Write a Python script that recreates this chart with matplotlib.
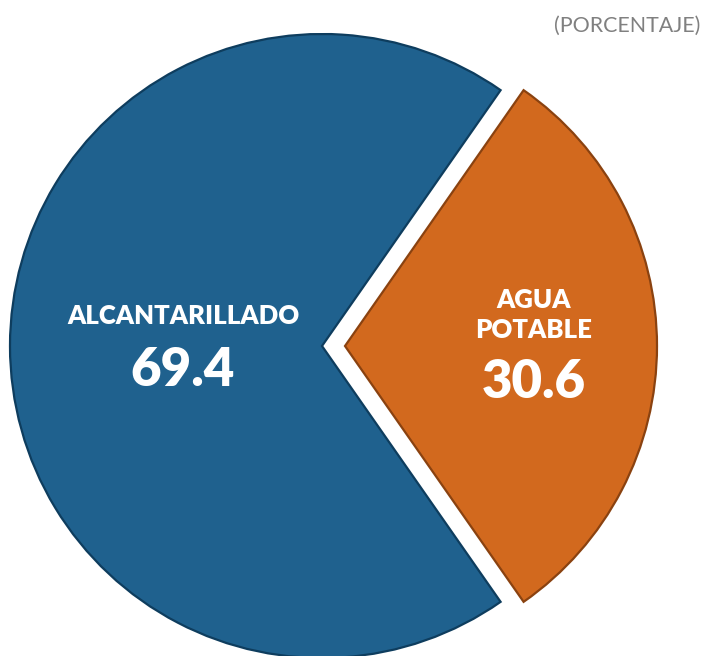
import matplotlib
matplotlib.use("Agg")
import matplotlib.pyplot as plt

# data
labels = ["ALCANTARILLADO", "AGUA\nPOTABLE"]
values = [69.4, 30.6]
colors = ["#1F618E", "#D2691E"]
edges = ["#0E3D5E", "#8A4210"]

W, H = 703, 656
fig = plt.figure(figsize=(W / 100, H / 100), dpi=100)
ax = fig.add_axes([0, 0, 1, 1])

# orange slice centred on the east direction, pulled out by ~23 px
start = values[1] / 100 * 360 / 2
wedges, _ = ax.pie(
    values,
    colors=colors,
    explode=[0, 23],
    startangle=start,
    counterclock=True,
    center=(322, H - 346),
    radius=312,
    wedgeprops=dict(linewidth=1.6),
)
for w, ec in zip(wedges, edges):
    w.set_edgecolor(ec)

ax.set_xlim(0, W)
ax.set_ylim(0, H)
ax.set_aspect("equal")
ax.axis("off")

font = ["Lato", "DejaVu Sans"]
# slice labels
ax.text(183, H - 316, labels[0], ha="center", va="center", color="white",
        fontsize=18.5, fontweight="heavy", family=font)
ax.text(183, H - 370, f"{values[0]:.1f}", ha="center", va="center", color="white",
        fontsize=38, fontweight="heavy", family=font)
ax.text(534, H - 315, labels[1], ha="center", va="center", color="white",
        fontsize=18.5, fontweight="heavy", family=font, linespacing=1.3)
ax.text(534, H - 382, f"{values[1]:.1f}", ha="center", va="center", color="white",
        fontsize=38, fontweight="heavy", family=font)

fig.text(700 / W, 1 - 26 / H, "(PORCENTAJE)", ha="right", va="center",
         color="#808080", fontsize=15.4, family=font)

fig.savefig("out.png", dpi=100)
